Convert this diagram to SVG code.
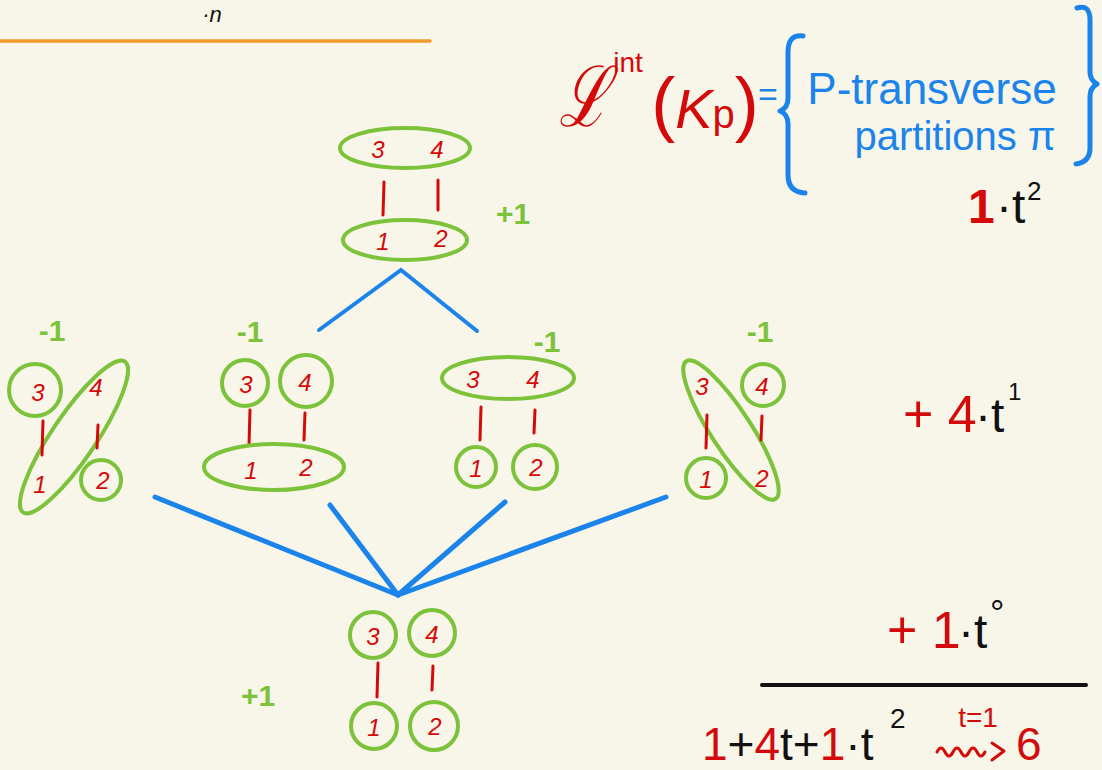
<svg xmlns="http://www.w3.org/2000/svg" width="1102" height="770" viewBox="0 0 1102 770">
<style>
.g{fill:none;stroke:#7cc23b;stroke-width:4}
.r{stroke:#d40a0a;stroke-width:3;stroke-linecap:round}
.n{font-family:"Liberation Sans",Arial,sans-serif;font-size:24px;fill:#d40a0a;font-style:italic;text-anchor:middle}
.s{font-family:"Liberation Sans",Arial,sans-serif;font-size:30px;fill:#7cc23b;font-weight:bold;text-anchor:middle}
.b{stroke:#1a84ea;stroke-linecap:round;fill:none}
.br{stroke:#1a84ea;stroke-width:5;stroke-linecap:round;stroke-linejoin:round;fill:none}
.red{fill:#d40a0a}
.blk{fill:#111}
.bl{fill:#1a84ea}
.f{font-family:"Liberation Sans",Arial,sans-serif}
</style>
<rect width="1102" height="770" fill="#f8f5e9"/>
<text x="212" y="22" class="f" font-size="22" font-style="italic" fill="#111" text-anchor="middle">·n</text>
<line x1="0" y1="41" x2="430" y2="41" stroke="#f39a2a" stroke-width="3.5" stroke-linecap="round"/>

<g id="formula">
<text x="0" y="0" font-family="DejaVu Serif,serif" font-size="84" font-style="italic" class="red" text-anchor="middle" transform="translate(584 126) scale(0.72 1)">ℒ</text>
<text x="628" y="72" class="f red" font-size="28" text-anchor="middle">int</text>
<text x="705" y="128" class="f red" font-size="72" text-anchor="middle">(<tspan font-size="56" font-style="italic">K</tspan><tspan font-size="40">p</tspan>)</text>
<text x="768" y="106" class="f bl" font-size="34" text-anchor="middle">=</text>
<path class="br" d="M803 36 Q788 34 788 52 L788 98 Q788 108 780 111 Q788 114 788 124 L788 175 Q788 192 805 193"/>
<path class="br" d="M1077 8 Q1090 4 1090 20 L1090 72 Q1090 80 1097 84 Q1090 88 1090 96 L1090 148 Q1090 162 1076 164"/>
<text x="932" y="104" class="f bl" font-size="44" text-anchor="middle">P-transverse</text>
<text x="955" y="150" class="f bl" font-size="40" text-anchor="middle">partitions π</text>
</g>

<g id="terms">
<text x="968" y="223" class="f red" font-size="48" font-weight="bold">1</text>
<text x="996" y="223" class="f blk" font-size="48">·t</text>
<text x="1027" y="200" class="f blk" font-size="26">2</text>

<text x="903" y="432" class="f red" font-size="52">+ 4</text>
<text x="975" y="432" class="f blk" font-size="48">·t</text>
<text x="1008" y="400" class="f blk" font-size="24">1</text>

<text x="887" y="648" class="f red" font-size="52">+ 1</text>
<text x="958" y="648" class="f blk" font-size="48">·t</text>
<text x="990" y="626" class="f blk" font-size="36">°</text>

<line x1="762" y1="685" x2="1086" y2="685" stroke="#111" stroke-width="4" stroke-linecap="round"/>

<text x="702" y="760" class="f" font-size="46"><tspan class="red">1</tspan><tspan class="blk">+</tspan><tspan class="red">4</tspan><tspan class="blk">t+</tspan><tspan class="red">1</tspan><tspan class="blk">·t</tspan></text>
<text x="890" y="728" class="f blk" font-size="28">2</text>
<text x="978" y="727" class="f red" font-size="28" text-anchor="middle">t=1</text>
<path d="M937 752 q4 -8 8 0 q4 8 8 0 q4 -8 8 0 q4 8 8 0 q4 -8 8 0 q4 8 8 0 M992 743 l12 8 l-12 9" stroke="#d40a0a" stroke-width="3" fill="none" stroke-linecap="round" stroke-linejoin="round"/>
<text x="1016" y="760" class="f red" font-size="46">6</text>
</g>

<g id="connectors">
<polyline class="b" stroke-width="4" points="319,330 401,270 477,331"/>
<line class="b" stroke-width="5" x1="155" y1="497" x2="398" y2="595"/>
<line class="b" stroke-width="5" x1="330" y1="505" x2="398" y2="595"/>
<line class="b" stroke-width="5" x1="505" y1="502" x2="398" y2="595"/>
<line class="b" stroke-width="5" x1="666" y1="497" x2="398" y2="595"/>
</g>

<g id="node-top">
<ellipse class="g" cx="405" cy="148" rx="65" ry="20"/>
<text x="378" y="158" class="n">3</text><text x="437" y="158" class="n">4</text>
<line class="r" x1="384" y1="182" x2="383" y2="215"/>
<line class="r" x1="438" y1="180" x2="438" y2="210"/>
<ellipse class="g" cx="405" cy="240" rx="62" ry="20"/>
<text x="383" y="250" class="n">1</text><text x="441" y="247" class="n">2</text>
<text x="513" y="224" class="s">+1</text>
</g>

<g id="node-a">
<text x="52" y="341" class="s">-1</text>
<circle class="g" cx="35" cy="390" r="26"/>
<text x="38" y="401" class="n">3</text>
<ellipse class="g" cx="74" cy="437" rx="91" ry="22" transform="rotate(-56 74 437)"/>
<circle class="g" cx="101" cy="480" r="20"/>
<text x="96" y="396" class="n">4</text><text x="40" y="493" class="n">1</text><text x="103" y="489" class="n">2</text>
<line class="r" x1="43" y1="421" x2="42" y2="455"/>
<line class="r" x1="98" y1="425" x2="97" y2="448"/>
</g>

<g id="node-b">
<text x="250" y="342" class="s">-1</text>
<circle class="g" cx="245" cy="383" r="23"/>
<circle class="g" cx="306" cy="381" r="26"/>
<text x="246" y="393" class="n">3</text><text x="305" y="391" class="n">4</text>
<line class="r" x1="250" y1="410" x2="249" y2="445"/>
<line class="r" x1="305" y1="413" x2="304" y2="440"/>
<ellipse class="g" cx="274" cy="467" rx="70" ry="23"/>
<text x="251" y="479" class="n">1</text><text x="306" y="476" class="n">2</text>
</g>

<g id="node-c">
<text x="547" y="352" class="s" font-size="24">-1</text>
<ellipse class="g" cx="508" cy="378" rx="66" ry="21"/>
<text x="473" y="388" class="n">3</text><text x="533" y="388" class="n">4</text>
<line class="r" x1="481" y1="407" x2="480" y2="440"/>
<line class="r" x1="535" y1="410" x2="534" y2="433"/>
<circle class="g" cx="476" cy="467" r="20"/>
<circle class="g" cx="535" cy="467" r="22"/>
<text x="476" y="477" class="n">1</text><text x="536" y="476" class="n">2</text>
</g>

<g id="node-d">
<text x="760" y="342" class="s">-1</text>
<ellipse class="g" cx="731" cy="430" rx="82" ry="20" transform="rotate(57 731 430)"/>
<circle class="g" cx="763" cy="385" r="21"/>
<circle class="g" cx="706" cy="478" r="20"/>
<text x="702" y="395" class="n">3</text><text x="762" y="395" class="n">4</text>
<text x="706" y="488" class="n">1</text><text x="762" y="487" class="n">2</text>
<line class="r" x1="707" y1="415" x2="706" y2="448"/>
<line class="r" x1="762" y1="416" x2="761" y2="440"/>
</g>

<g id="node-bottom">
<circle class="g" cx="373" cy="635" r="23"/>
<circle class="g" cx="432" cy="633" r="23"/>
<text x="373" y="645" class="n">3</text><text x="432" y="643" class="n">4</text>
<line class="r" x1="378" y1="663" x2="377" y2="697"/>
<line class="r" x1="433" y1="666" x2="432" y2="690"/>
<circle class="g" cx="374" cy="726" r="23"/>
<circle class="g" cx="434" cy="726" r="24"/>
<text x="374" y="736" class="n">1</text><text x="435" y="735" class="n">2</text>
<text x="258" y="706" class="s">+1</text>
</g>
</svg>
